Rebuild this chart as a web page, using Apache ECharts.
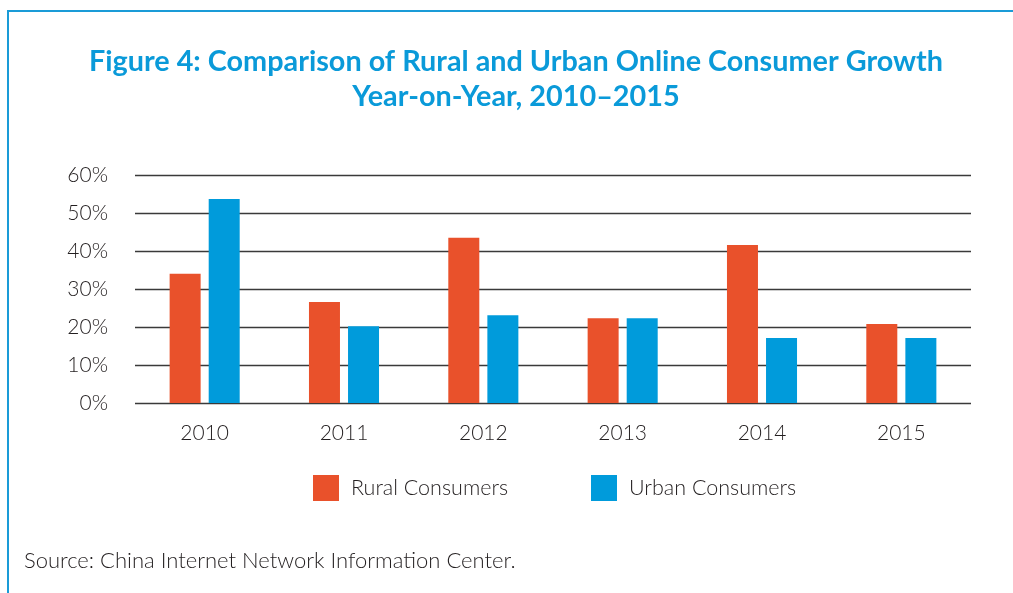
<!DOCTYPE html>
<html>
<head>
<meta charset="utf-8">
<script src="https://cdn.jsdelivr.net/npm/echarts@6/dist/echarts.min.js"></script>
<style>
  html, body { margin: 0; padding: 0; background: #fff; }
  #chart { width: 1013px; height: 593px; }
</style>
</head>
<body>
<div id="chart"></div>
<script>
// data
var years = ["2010", "2011", "2012", "2013", "2014", "2015"];
var ruralGrowth = [34.0, 26.6, 43.5, 22.3, 41.6, 20.8];
var urbanGrowth = [53.7, 20.2, 23.1, 22.3, 17.1, 17.1];
var seriesNames = ["Rural Consumers", "Urban Consumers"];

var chart = echarts.init(document.getElementById("chart"));

var option = {
  backgroundColor: "#fff",
  animation: false,
  title: {
    text: "Figure 4: Comparison of Rural and Urban Online Consumer Growth\nYear-on-Year, 2010\u20132015",
    left: 511,
    top: 39,
    textAlign: "center",
    textStyle: {
      color: "#0a9ad9",
      fontFamily: "Lato",
      fontWeight: "bold",
      fontSize: 28.8,
      lineHeight: 35,
      align: "center",
    },
  },
  legend: {
    left: 308,
    top: 470,
    itemWidth: 26,
    itemHeight: 26,
    itemGap: 83,
    icon: "rect",
    data: seriesNames,
    textStyle: {
      color: "#231f20",
      fontFamily: "Lato",
      fontWeight: 300,
      fontSize: 21.5,
      padding: [0, 0, 0, 7],
    },
  },
  grid: {
    left: 135,
    right: 42,
    top: 175,
    bottom: 190,
  },
  xAxis: {
    type: "category",
    data: years,
    axisLine: { show: false },
    axisTick: { show: false },
    axisLabel: {
      color: "#231f20",
      fontFamily: "Lato",
      fontWeight: 300,
      fontSize: 21,
      margin: 20,
    },
  },
  yAxis: {
    type: "value",
    min: 0,
    max: 60,
    interval: 10,
    axisLine: { show: false },
    axisTick: { show: false },
    axisLabel: {
      formatter: "{value}%",
      color: "#231f20",
      fontFamily: "Lato",
      fontWeight: 300,
      fontSize: 21,
      margin: 27,
    },
    splitLine: {
      lineStyle: { color: "#3a3a3a", width: 1.3 },
    },
  },
  series: [
    {
      name: seriesNames[0],
      type: "bar",
      data: ruralGrowth,
      barWidth: 31,
      barGap: "26%",
      itemStyle: { color: "#e9512b" },
    },
    {
      name: seriesNames[1],
      type: "bar",
      data: urbanGrowth,
      barWidth: 31,
      barGap: "26%",
      itemStyle: { color: "#009bdb" },
    },
  ],
  graphic: [
    {
      type: "line",
      shape: { x1: 8, y1: 11, x2: 1013, y2: 11 },
      style: { stroke: "#1a9bd7", lineWidth: 2 },
    },
    {
      type: "line",
      shape: { x1: 8, y1: 10, x2: 8, y2: 593 },
      style: { stroke: "#1a9bd7", lineWidth: 2 },
    },
    {
      type: "text",
      left: 24,
      top: 550,
      style: {
        text: "Source: China Internet Network Information Center.",
        fill: "#231f20",
        font: "300 22px Lato",
      },
    },
  ],
};

chart.setOption(option);
</script>
</body>
</html>
